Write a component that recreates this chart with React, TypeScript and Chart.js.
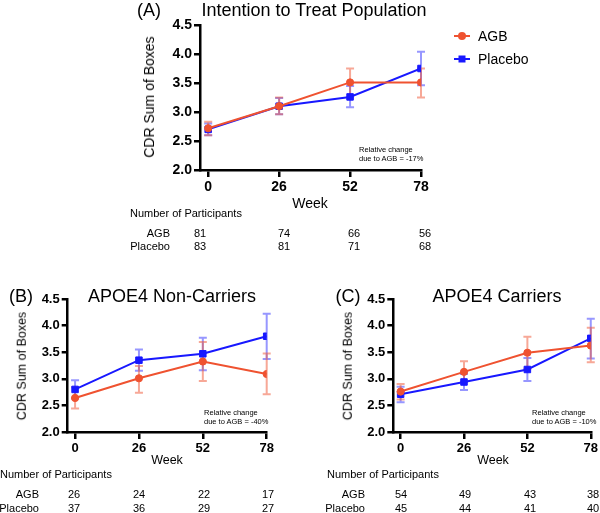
import React, { useEffect, useRef } from "react";
import { Chart, registerables } from "chart.js";

Chart.register(...registerables);

// ---------- data ----------
const weeks = [0, 26, 52, 78];
const yTickValues = [2.0, 2.5, 3.0, 3.5, 4.0, 4.5];
const seriesNames = ["AGB", "Placebo"];

// (A) Intention to Treat Population
const ittAgb = [2.72, 3.1, 3.51, 3.51];
const ittAgbHigh = [2.83, 3.25, 3.75, 3.75];
const ittAgbLow = [2.6, 2.96, 3.25, 3.25];
const ittPlacebo = [2.7, 3.1, 3.26, 3.75];
const ittPlaceboHigh = [2.8, 3.24, 3.45, 4.04];
const ittPlaceboLow = [2.6, 2.96, 3.08, 3.46];
const ittAgbN = [81, 74, 66, 56];
const ittPlaceboN = [83, 81, 71, 68];

// (B) APOE4 Non-Carriers
const nonAgb = [2.64, 3.01, 3.325, 3.09];
const nonAgbHigh = [2.84, 3.24, 3.69, 3.475];
const nonAgbLow = [2.44, 2.74, 2.96, 2.71];
const nonPlacebo = [2.8, 3.35, 3.47, 3.8];
const nonPlaceboHigh = [2.975, 3.55, 3.77, 4.225];
const nonPlaceboLow = [2.63, 3.15, 3.16, 3.37];
const nonAgbN = [26, 24, 22, 17];
const nonPlaceboN = [37, 36, 29, 27];

// (C) APOE4 Carriers
const carAgb = [2.76, 3.13, 3.49, 3.625];
const carAgbHigh = [2.9, 3.33, 3.79, 3.96];
const carAgbLow = [2.61, 2.94, 3.19, 3.31];
const carPlacebo = [2.71, 2.94, 3.175, 3.76];
const carPlaceboHigh = [2.85, 3.09, 3.39, 4.13];
const carPlaceboLow = [2.56, 2.79, 2.96, 3.38];
const carAgbN = [54, 49, 43, 38];
const carPlaceboN = [45, 44, 41, 40];

// ---------- styles ----------
const FONT = '"Liberation Sans", Arial, Helvetica, sans-serif';
const ORANGE = "#EF5230";
const BLUE = "#1818FF";
const ORANGE_ERR = "rgba(239,82,48,0.5)";
const BLUE_ERR = "rgba(24,24,255,0.45)";

type Panel = {
  key: string;
  letter: string;
  title: string;
  note: string;
  box: { left: number; top: number; width: number; height: number };
  area: { l: number; r: number; t: number; b: number };
  tickSize: number;
  labelSize: number;
  legend: boolean;
  agb: number[];
  agbHigh: number[];
  agbLow: number[];
  placebo: number[];
  placeboHigh: number[];
  placeboLow: number[];
  agbN: number[];
  placeboN: number[];
  // text layout
  letterPos: [number, number];
  titlePos: [number, number];
  yLabelPos: [number, number];
  weekPos: [number, number];
  nopPos: [number, number];
  rowLabelX: number;
  rowY: [number, number];
  colX: number[];
  notePos: [number, number];
};

const panels: Panel[] = [
  {
    key: "A",
    letter: "(A)",
    title: "Intention to Treat Population",
    note: "-17%",
    box: { left: 0, top: 0, width: 600, height: 200 },
    area: { l: 200, r: 421, t: 25, b: 170 },
    tickSize: 14,
    labelSize: 14,
    legend: true,
    agb: ittAgb,
    agbHigh: ittAgbHigh,
    agbLow: ittAgbLow,
    placebo: ittPlacebo,
    placeboHigh: ittPlaceboHigh,
    placeboLow: ittPlaceboLow,
    agbN: ittAgbN,
    placeboN: ittPlaceboN,
    letterPos: [149, 10],
    titlePos: [314, 9.5],
    yLabelPos: [149, 97],
    weekPos: [310, 203],
    nopPos: [130, 213],
    rowLabelX: 170,
    rowY: [233, 246],
    colX: [194, 278, 348, 419],
    notePos: [359, 150],
  },
  {
    key: "B",
    letter: "(B)",
    title: "APOE4 Non-Carriers",
    note: "-40%",
    box: { left: 0, top: 285, width: 300, height: 180 },
    area: { l: 67.7, r: 266.7, t: 299, b: 432 },
    tickSize: 13,
    labelSize: 12.5,
    legend: false,
    agb: nonAgb,
    agbHigh: nonAgbHigh,
    agbLow: nonAgbLow,
    placebo: nonPlacebo,
    placeboHigh: nonPlaceboHigh,
    placeboLow: nonPlaceboLow,
    agbN: nonAgbN,
    placeboN: nonPlaceboN,
    letterPos: [21, 296],
    titlePos: [172, 296],
    yLabelPos: [22, 366],
    weekPos: [167, 460],
    nopPos: [0, 474],
    rowLabelX: 39,
    rowY: [494, 508],
    colX: [68, 133, 198, 262],
    notePos: [204, 413],
  },
  {
    key: "C",
    letter: "(C)",
    title: "APOE4 Carriers",
    note: "-10%",
    box: { left: 300, top: 285, width: 300, height: 180 },
    area: { l: 393.3, r: 592.7, t: 299, b: 432 },
    tickSize: 13,
    labelSize: 12.5,
    legend: false,
    agb: carAgb,
    agbHigh: carAgbHigh,
    agbLow: carAgbLow,
    placebo: carPlacebo,
    placeboHigh: carPlaceboHigh,
    placeboLow: carPlaceboLow,
    agbN: carAgbN,
    placeboN: carPlaceboN,
    letterPos: [348, 296],
    titlePos: [497, 296],
    yLabelPos: [348, 366],
    weekPos: [493, 460],
    nopPos: [327, 474],
    rowLabelX: 365,
    rowY: [494, 508],
    colX: [395, 459, 524, 587],
    notePos: [532, 413],
  },
];

// ---------- plugins ----------
const errorBarPlugin = {
  id: "errorBars",
  beforeDatasetsDraw(chart: any) {
    const ctx = chart.ctx;
    const xs = chart.scales.x;
    const ys = chart.scales.y;
    const cap = 4;
    for (let d = chart.data.datasets.length - 1; d >= 0; d--) {
      const ds: any = chart.data.datasets[d];
      ctx.save();
      ctx.strokeStyle = ds.errColor;
      ctx.lineWidth = 2;
      ds.data.forEach((pt: any, i: number) => {
        const x = xs.getPixelForValue(pt.x);
        const yh = ys.getPixelForValue(ds.errHigh[i]);
        const yl = ys.getPixelForValue(ds.errLow[i]);
        ctx.beginPath();
        ctx.moveTo(x, yh);
        ctx.lineTo(x, yl);
        ctx.moveTo(x - cap, yh);
        ctx.lineTo(x + cap, yh);
        ctx.moveTo(x - cap, yl);
        ctx.lineTo(x + cap, yl);
        ctx.stroke();
      });
      ctx.restore();
    }
  },
};

const legendPlugin = {
  id: "lineLegend",
  afterDraw(chart: any) {
    const ctx = chart.ctx;
    const rows = [36, 59];
    chart.data.datasets.forEach((ds: any, i: number) => {
      const y = rows[i];
      ctx.save();
      ctx.strokeStyle = ds.borderColor;
      ctx.fillStyle = ds.borderColor;
      ctx.lineWidth = 2;
      ctx.beginPath();
      ctx.moveTo(454, y);
      ctx.lineTo(470, y);
      ctx.stroke();
      if (ds.pointStyle === "rect") {
        ctx.fillRect(462 - 3.5, y - 3.5, 7, 7);
      } else {
        ctx.beginPath();
        ctx.arc(462, y, 4, 0, Math.PI * 2);
        ctx.fill();
      }
      ctx.fillStyle = "#000";
      ctx.font = `14px ${FONT}`;
      ctx.textBaseline = "middle";
      ctx.textAlign = "left";
      ctx.fillText(ds.label, 478, y + 1);
      ctx.restore();
    });
  },
};

function buildChart(canvas: HTMLCanvasElement, p: Panel) {
  const W = 40;
  const H = 25;
  const padding = {
    left: p.area.l - p.box.left - W,
    right: p.box.left + p.box.width - p.area.r,
    top: p.area.t - p.box.top,
    bottom: p.box.top + p.box.height - p.area.b - H,
  };
  const tickFont = { family: FONT, size: p.tickSize, weight: "bold" as const };
  const gridOpts = {
    display: true,
    drawOnChartArea: false,
    drawTicks: true,
    tickLength: 6,
    color: "#000",
    lineWidth: 2.5,
  };
  const borderOpts = { display: true, color: "#000", width: 2.5 };
  return new Chart(canvas, {
    type: "line",
    data: {
      datasets: [
        {
          label: seriesNames[0],
          data: weeks.map((w, i) => ({ x: w, y: p.agb[i] })),
          errHigh: p.agbHigh,
          errLow: p.agbLow,
          errColor: ORANGE_ERR,
          borderColor: ORANGE,
          backgroundColor: ORANGE,
          pointBackgroundColor: ORANGE,
          pointBorderColor: ORANGE,
          pointStyle: "circle",
          pointRadius: 3.6,
          pointBorderWidth: 1,
          borderWidth: 2,
          tension: 0,
          fill: false,
        } as any,
        {
          label: seriesNames[1],
          data: weeks.map((w, i) => ({ x: w, y: p.placebo[i] })),
          errHigh: p.placeboHigh,
          errLow: p.placeboLow,
          errColor: BLUE_ERR,
          borderColor: BLUE,
          backgroundColor: BLUE,
          pointBackgroundColor: BLUE,
          pointBorderColor: BLUE,
          pointStyle: "rect",
          pointRadius: 4.6,
          pointBorderWidth: 1,
          borderWidth: 2,
          tension: 0,
          fill: false,
        } as any,
      ],
    },
    options: {
      responsive: false,
      animation: false,
      devicePixelRatio: 1,
      layout: { padding },
      plugins: {
        legend: { display: false },
        tooltip: { enabled: false },
        title: { display: false },
      },
      scales: {
        x: {
          type: "linear",
          min: -3,
          max: 78,
          afterFit: (s: any) => {
            s.height = H;
          },
          afterBuildTicks: (s: any) => {
            s.ticks = weeks.map((v) => ({ value: v }));
          },
          ticks: {
            font: tickFont,
            color: "#000",
            padding: 2,
            maxRotation: 0,
            autoSkip: false,
            callback: (v: any) => String(v),
          },
          grid: { ...gridOpts, tickLength: 7 },
          border: borderOpts,
        },
        y: {
          type: "linear",
          min: 2,
          max: 4.5,
          afterFit: (s: any) => {
            s.width = W;
          },
          afterBuildTicks: (s: any) => {
            s.ticks = yTickValues.map((v) => ({ value: v }));
          },
          ticks: {
            font: tickFont,
            color: "#000",
            padding: 2,
            callback: (v: any) => Number(v).toFixed(1),
          },
          grid: gridOpts,
          border: borderOpts,
        },
      } as any,
    },
    plugins: p.legend ? [errorBarPlugin, legendPlugin] : [errorBarPlugin],
  } as any);
}

// ---------- components ----------
type TextProps = {
  x: number;
  y: number;
  size: number;
  anchor?: "start" | "middle" | "end";
  rotate?: boolean;
  bold?: boolean;
  children: React.ReactNode;
};

function Text({ x, y, size, anchor = "start", rotate = false, bold = false, children }: TextProps) {
  const tx = anchor === "start" ? "0" : anchor === "middle" ? "-50%" : "-100%";
  const transform = rotate
    ? `translate(-50%, -50%) rotate(-90deg)`
    : `translate(${tx}, -50%)`;
  return (
    <div
      style={{
        position: "absolute",
        left: x,
        top: y,
        fontFamily: FONT,
        fontSize: size,
        fontWeight: bold ? "bold" : "normal",
        lineHeight: 1,
        whiteSpace: "nowrap",
        color: "#000",
        transform,
        transformOrigin: "center center",
      }}
    >
      {children}
    </div>
  );
}

function ChartCanvas({ p }: { p: Panel }) {
  const ref = useRef<HTMLCanvasElement | null>(null);
  useEffect(() => {
    if (!ref.current) return;
    const chart = buildChart(ref.current, p);
    return () => chart.destroy();
  }, [p]);
  return (
    <canvas
      ref={ref}
      width={p.box.width}
      height={p.box.height}
      style={{
        position: "absolute",
        left: p.box.left,
        top: p.box.top,
        width: p.box.width,
        height: p.box.height,
        display: "block",
      }}
    />
  );
}

function PanelTexts({ p }: { p: Panel }) {
  const noteSize = 7.5;
  return (
    <>
      <Text x={p.letterPos[0]} y={p.letterPos[1]} size={18} anchor="middle">
        {p.letter}
      </Text>
      <Text x={p.titlePos[0]} y={p.titlePos[1]} size={18} anchor="middle">
        {p.title}
      </Text>
      <Text x={p.yLabelPos[0]} y={p.yLabelPos[1]} size={p.labelSize} rotate>
        CDR Sum of Boxes
      </Text>
      <Text x={p.weekPos[0]} y={p.weekPos[1]} size={p.labelSize} anchor="middle">
        Week
      </Text>
      <Text x={p.nopPos[0]} y={p.nopPos[1]} size={11}>
        Number of Participants
      </Text>
      <Text x={p.rowLabelX} y={p.rowY[0]} size={11} anchor="end">
        {seriesNames[0]}
      </Text>
      <Text x={p.rowLabelX} y={p.rowY[1]} size={11} anchor="end">
        {seriesNames[1]}
      </Text>
      {p.agbN.map((n, i) => (
        <Text key={"a" + i} x={p.colX[i]} y={p.rowY[0]} size={11}>
          {n}
        </Text>
      ))}
      {p.placeboN.map((n, i) => (
        <Text key={"p" + i} x={p.colX[i]} y={p.rowY[1]} size={11}>
          {n}
        </Text>
      ))}
      <Text x={p.notePos[0]} y={p.notePos[1]} size={noteSize}>
        Relative change
      </Text>
      <Text x={p.notePos[0]} y={p.notePos[1] + 9} size={noteSize}>
        {`due to AGB = ${p.note}`}
      </Text>
    </>
  );
}

export default function App() {
  return (
    <div
      style={{
        position: "absolute",
        left: 0,
        top: 0,
        width: 600,
        height: 513,
        overflow: "hidden",
        background: "#fff",
      }}
    >
      {panels.map((p) => (
        <ChartCanvas key={"c" + p.key} p={p} />
      ))}
      {panels.map((p) => (
        <PanelTexts key={"t" + p.key} p={p} />
      ))}
    </div>
  );
}
